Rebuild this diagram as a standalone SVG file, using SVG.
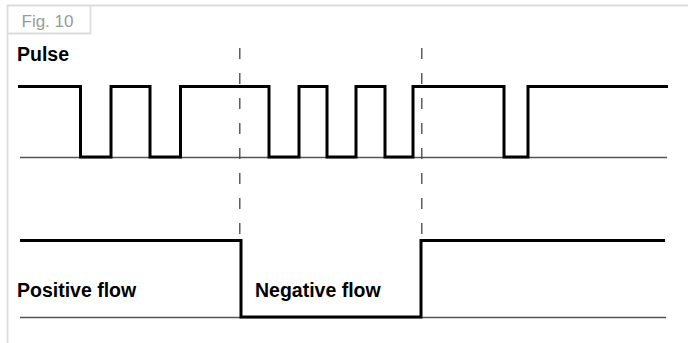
<svg xmlns="http://www.w3.org/2000/svg" width="689" height="343" viewBox="0 0 689 343">
<style>
.frame{fill:none;stroke:#dcdcdc;stroke-width:1.8}
.base{fill:none;stroke:#555;stroke-width:1.3}
.sig{fill:none;stroke:#000;stroke-width:3;stroke-linejoin:miter}
.dash{fill:none;stroke:#444;stroke-width:1.3;stroke-dasharray:11 14}
.lbl{font-family:"Liberation Sans",Arial,sans-serif;font-weight:bold;font-size:19.5px;fill:#000}
.fig{font-family:"Liberation Sans",Arial,sans-serif;font-size:17px;fill:#9a9a9a}
</style>
<rect width="689" height="343" fill="#fff"/>
<g id="frame">
<path class="frame" d="M7.5,343 V5.5 H688"/>
<path class="frame" d="M7.5,33.5 H90.5 V5.5"/>
<text class="fig" x="21.5" y="27.3">Fig. 10</text>
</g>
<g id="pulse">
<text class="lbl" x="17" y="60.5">Pulse</text>
<line class="base" x1="20" y1="157.5" x2="667" y2="157.5"/>
<path class="sig" d="M18,86.5 H80.5 V157 H111 V86.5 H150 V157 H180.5 V86.5 H269 V157 H299 V86.5 H327 V157 H356 V86.5 H385 V157 H413 V86.5 H504 V157 H528 V86.5 H668"/>
</g>
<g id="flow">
<line class="base" x1="20" y1="317.5" x2="666" y2="317.5"/>
<path class="sig" d="M20,240.5 H241 V317 H421 V240.5 H665"/>
<text class="lbl" x="17" y="297">Positive flow</text>
<text class="lbl" x="255" y="297">Negative flow</text>
</g>
<g id="connectors">
<line class="dash" x1="239.8" y1="48" x2="239.8" y2="240"/>
<line class="dash" x1="421.8" y1="48" x2="421.8" y2="240"/>
</g>
</svg>
